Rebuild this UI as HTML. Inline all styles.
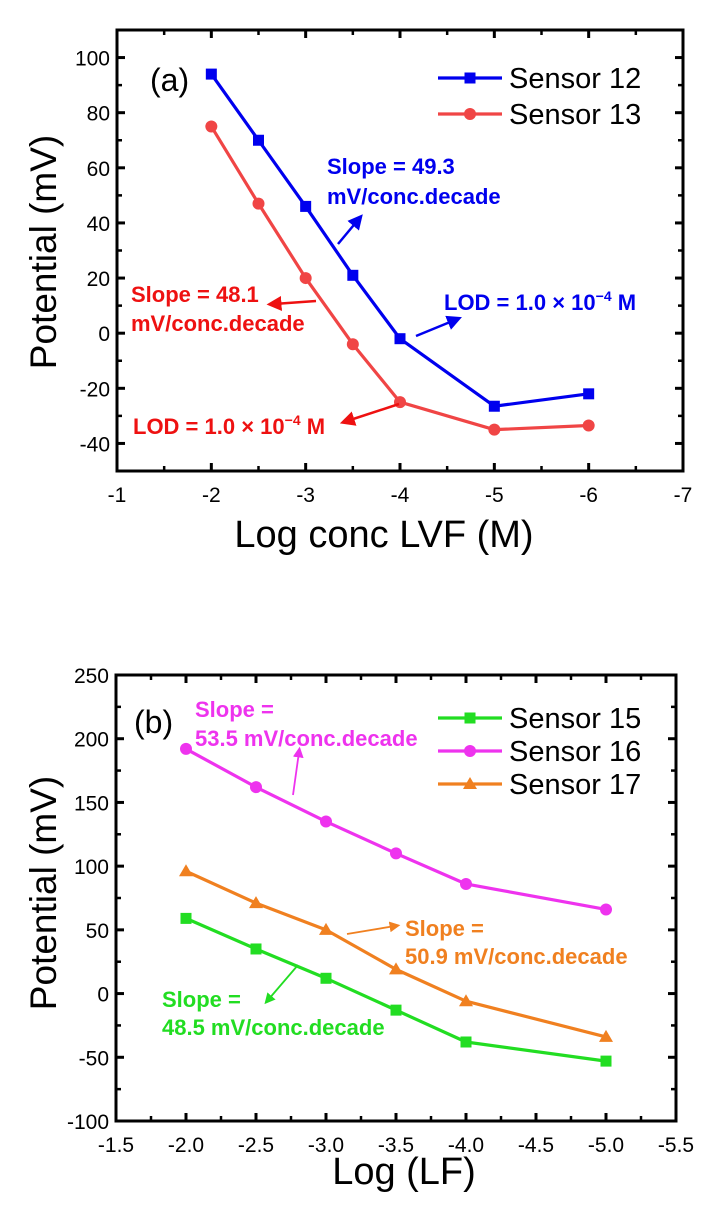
<!DOCTYPE html>
<html><head><meta charset="utf-8"><style>
html,body{margin:0;padding:0;background:#fff;}
svg{display:block;font-family:"Liberation Sans",Arial,sans-serif;}
</style></head><body>
<svg id="fig" width="704" height="1212" viewBox="0 0 704 1212" xmlns="http://www.w3.org/2000/svg">
<defs>
<marker id="ab" markerWidth="6" markerHeight="6" refX="3" refY="3" orient="auto"><path d="M0,0 L6,3 L0,6 z" fill="#0000ee"/></marker>
<marker id="ar" markerWidth="6" markerHeight="6" refX="3" refY="3" orient="auto"><path d="M0,0 L6,3 L0,6 z" fill="#ee1111"/></marker>
<marker id="am" markerWidth="6" markerHeight="6" refX="3" refY="3" orient="auto"><path d="M0,0 L6,3 L0,6 z" fill="#ee33ee"/></marker>
<marker id="ao" markerWidth="6" markerHeight="6" refX="3" refY="3" orient="auto"><path d="M0,0 L6,3 L0,6 z" fill="#f08020"/></marker>
<marker id="ag" markerWidth="6" markerHeight="6" refX="3" refY="3" orient="auto"><path d="M0,0 L6,3 L0,6 z" fill="#22dd22"/></marker>
</defs>
<g id="pa"></g>
<g id="pb"></g>
<g font-weight="bold" font-size="22">
<text x="150" y="91" font-size="32" font-weight="normal">(a)</text>
<text x="327" y="174" fill="#0000ee">Slope = 49.3</text>
<text x="327" y="204" fill="#0000ee">mV/conc.decade</text>
<line x1="338" y1="244" x2="358" y2="220" stroke="#0000ee" stroke-width="2.5" marker-end="url(#ab)"/>
<text x="444" y="310" fill="#0000ee">LOD = 1.0 × 10<tspan dy="-9" font-size="14">−4</tspan><tspan dy="9"> M</tspan></text>
<line x1="416" y1="336" x2="455" y2="320" stroke="#0000ee" stroke-width="2.5" marker-end="url(#ab)"/>
<text x="131" y="302" fill="#ee1111">Slope = 48.1</text>
<text x="131" y="331" fill="#ee1111">mV/conc.decade</text>
<line x1="316" y1="301" x2="274" y2="304" stroke="#ee1111" stroke-width="2.5" marker-end="url(#ar)"/>
<text x="133" y="434" fill="#ee1111">LOD = 1.0 × 10<tspan dy="-9" font-size="14">−4</tspan><tspan dy="9"> M</tspan></text>
<line x1="399" y1="404" x2="347" y2="421" stroke="#ee1111" stroke-width="2.5" marker-end="url(#ar)"/>
<text x="134" y="733" font-size="32" font-weight="normal">(b)</text>
<text x="195" y="717" fill="#ee33ee">Slope =</text>
<text x="195" y="746" fill="#ee33ee">53.5 mV/conc.decade</text>
<line x1="293" y1="795" x2="299" y2="752" stroke="#ee33ee" stroke-width="1.8" marker-end="url(#am)"/>
<text x="405" y="936" fill="#f08020">Slope =</text>
<text x="405" y="964" fill="#f08020">50.9 mV/conc.decade</text>
<line x1="347" y1="934" x2="395" y2="926" stroke="#f08020" stroke-width="1.8" marker-end="url(#ao)"/>
<text x="162" y="1007" fill="#22dd22">Slope =</text>
<text x="162" y="1035" fill="#22dd22">48.5 mV/conc.decade</text>
<line x1="298" y1="965" x2="268" y2="1000" stroke="#22dd22" stroke-width="1.8" marker-end="url(#ag)"/>
</g>
</svg>
<script>
const aX = [-2, -2.5, -3, -3.5, -4, -5, -6];
const s12 = [94, 70, 46, 21, -2, -26.5, -22];
const s13 = [75, 47, 20, -4, -25, -35, -33.5];
const aXTicks = [-1, -2, -3, -4, -5, -6, -7];
const aYTicks = [-40, -20, 0, 20, 40, 60, 80, 100];
const bX = [-2, -2.5, -3, -3.5, -4, -5];
const s15 = [59, 35, 12, -13, -38, -53];
const s16 = [192, 162, 135, 110, 86, 66];
const s17 = [96, 71, 50, 19, -6, -34];
const bXTicks = ["-1.5", "-2.0", "-2.5", "-3.0", "-3.5", "-4.0", "-4.5", "-5.0", "-5.5"];
const bYTicks = [-100, -50, 0, 50, 100, 150, 200, 250];

const NS = "http://www.w3.org/2000/svg";
function mk(parent, tag, attrs) {
  const e = document.createElementNS(NS, tag);
  for (const k in attrs) e.setAttribute(k, attrs[k]);
  parent.appendChild(e);
  return e;
}
function panel(g, cfg) {
  const sx = v => cfg.L + (v - cfg.x0) / (cfg.x1 - cfg.x0) * (cfg.R - cfg.L);
  const sy = v => cfg.B - (v - cfg.y0) / (cfg.y1 - cfg.y0) * (cfg.B - cfg.T);
  const xt = cfg.xTicks.map(Number);
  for (let i = 0; i < xt.length; i++) {
    const v = xt[i];
    const x = sx(v);
    for (const [y, d] of [[cfg.B, -1], [cfg.T, 1]]) {
      const t = mk(g, "line", {x1: x, x2: x, y1: y, y2: y + d * 8, stroke: "#000", "stroke-width": 3});
      
      
    }
    if (i < xt.length - 1) {
      const xm = sx(v + (xt[i + 1] - v) / 2);
      for (const [y, d] of [[cfg.B, -1], [cfg.T, 1]]) {
        const t = mk(g, "line", {x1: xm, x2: xm, y1: y, y2: y + d * 5, stroke: "#000", "stroke-width": 2.5});
        
        
      }
    }
    const lb = mk(g, "text", {x: x, y: cfg.B + 31, "text-anchor": "middle", "font-size": 21});
    lb.textContent = cfg.xTicks[i];
    
    
  }
  const yt = cfg.yTicks;
  for (let i = 0; i < yt.length; i++) {
    const y = sy(yt[i]);
    for (const [x, d] of [[cfg.L, 1], [cfg.R, -1]]) {
      const t = mk(g, "line", {x1: x, x2: x + d * 8, y1: y, y2: y, stroke: "#000", "stroke-width": 3});
      
      
    }
    if (i < yt.length - 1) {
      const ym = sy((yt[i] + yt[i + 1]) / 2);
      for (const [x, d] of [[cfg.L, 1], [cfg.R, -1]]) {
        const t = mk(g, "line", {x1: x, x2: x + d * 5, y1: ym, y2: ym, stroke: "#000", "stroke-width": 2.5});
        
        
      }
    }
    const lb = mk(g, "text", {x: cfg.L - 7, y: y + 8, "text-anchor": "end", "font-size": 21});
    lb.textContent = yt[i];
    
    
  }
  const fr = mk(g, "rect", {x: cfg.L, y: cfg.T, width: cfg.R - cfg.L, height: cfg.B - cfg.T, fill: "none", stroke: "#000", "stroke-width": 3});
  
  
  cfg.series.forEach((s, k) => {
    const sg = mk(g, "g", {});
    
    
    const pts = cfg.xs.map((xv, i) => sx(xv) + "," + sy(s.ys[i])).join(" ");
    const pl = mk(sg, "polyline", {points: pts, fill: "none", stroke: s.color, "stroke-width": 3.2, "stroke-linejoin": "round"});
    
    
    cfg.xs.forEach((xv, i) => drawMarker(sg, s, sx(xv), sy(s.ys[i])));
    const ly = cfg.legY + k * cfg.legDy;
    const lg = mk(g, "g", {});
    
    
    const ll = mk(lg, "line", {x1: cfg.legX, x2: cfg.legX + 64, y1: ly, y2: ly, stroke: s.color, "stroke-width": 3.2});
    
    
    drawMarker(lg, s, cfg.legX + 32, ly);
    const lt = mk(lg, "text", {x: cfg.legX + 71, y: ly + 10, "font-size": 29});
    lt.textContent = s.label;
    
    
  });
  const xt2 = mk(g, "text", {x: cfg.xtX, y: cfg.xtY, "text-anchor": "middle", "font-size": 38});
  xt2.textContent = cfg.xTitle;
  
  
  const yt2 = mk(g, "text", {x: 0, y: 0, "text-anchor": "middle", "font-size": 37, transform: "translate(56," + cfg.ytY + ") rotate(-90)"});
  yt2.textContent = "Potential (mV)";
  
  
}
function drawMarker(g, s, x, y) {
  let m;
  if (s.marker === "square") m = mk(g, "rect", {x: x - 5.5, y: y - 5.5, width: 11, height: 11, fill: s.color});
  else if (s.marker === "circle") m = mk(g, "circle", {cx: x, cy: y, r: 6, fill: s.color});
  else m = mk(g, "polygon", {points: (x) + "," + (y - 7) + " " + (x - 7) + "," + (y + 5) + " " + (x + 7) + "," + (y + 5), fill: s.color});
  
  
}
panel(document.getElementById("pa"), {
  L: 117, R: 683, T: 30, B: 471, x0: -1, x1: -7, y0: -50, y1: 110,
  xs: aX, xTicks: aXTicks, yTicks: aYTicks,
  series: [
    {name: "sensor-12-series", label: "Sensor 12", ys: s12, color: "#0000ee", marker: "square"},
    {name: "sensor-13-series", label: "Sensor 13", ys: s13, color: "#f04545", marker: "circle"}
  ],
  legX: 438, legY: 78, legDy: 36, xTitle: "Log conc LVF (M)", xtX: 384, xtY: 547, ytY: 252
});
panel(document.getElementById("pb"), {
  L: 116, R: 676, T: 675, B: 1121, x0: -1.5, x1: -5.5, y0: -100, y1: 250,
  xs: bX, xTicks: bXTicks, yTicks: bYTicks,
  series: [
    {name: "sensor-15-series", label: "Sensor 15", ys: s15, color: "#22dd22", marker: "square"},
    {name: "sensor-16-series", label: "Sensor 16", ys: s16, color: "#ee33ee", marker: "circle"},
    {name: "sensor-17-series", label: "Sensor 17", ys: s17, color: "#f08020", marker: "triangle"}
  ],
  legX: 438, legY: 718, legDy: 33, xTitle: "Log (LF)", xtX: 404, xtY: 1184, ytY: 893
});
</script>
</body></html>
